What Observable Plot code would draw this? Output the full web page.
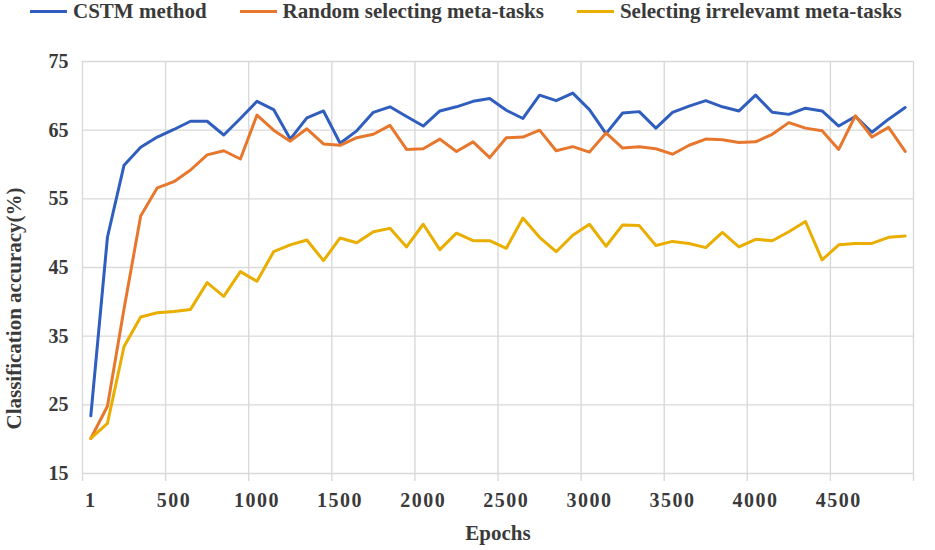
<!DOCTYPE html>
<html>
<head>
<meta charset="utf-8">
<script src="https://cdn.jsdelivr.net/npm/d3@7"></script>
<script src="https://cdn.jsdelivr.net/npm/@observablehq/plot@0.6"></script>
<style>
  body { margin: 0; background: #fff; }
  #legend { height: 22px; line-height: 22px; display: flex; align-items: center; padding-left: 30px;
            font: bold 21px "Liberation Serif", "Times New Roman", serif; color: #3a3a3a; white-space: nowrap; }
  .item { display: flex; align-items: center; margin-right: 33px; }
  .sw { width: 37px; height: 3px; margin-right: 6px; }
  #chart svg text { font-family: "Liberation Serif", "Times New Roman", serif !important; font-weight: bold; }
  g[aria-label="x-axis tick label"] text { letter-spacing: 1.5px; }
</style>
</head>
<body>
<div id="legend"></div>
<div id="chart"></div>
<script>
const epochs = [1, 100, 200, 300, 400, 500, 600, 700, 800, 900,
  1000, 1100, 1200, 1300, 1400, 1500, 1600, 1700, 1800, 1900,
  2000, 2100, 2200, 2300, 2400, 2500, 2600, 2700, 2800, 2900,
  3000, 3100, 3200, 3300, 3400, 3500, 3600, 3700, 3800, 3900,
  4000, 4100, 4200, 4300, 4400, 4500, 4600, 4700, 4800, 4900];
const tickLabels = ["1", "500", "1000", "1500", "2000", "2500", "3000", "3500", "4000", "4500"];
const yTicks = [15, 25, 35, 45, 55, 65, 75];
const seriesNames = ["CSTM method", "Random selecting meta-tasks", "Selecting irrelevamt meta-tasks"];
const seriesColors = ["#2F5EBE", "#E8772E", "#E9AE00"];

const cstm = [23.4, 49.4, 59.9, 62.5, 64.0, 65.1, 66.3, 66.3, 64.3, 66.7,
  69.2, 68.0, 63.7, 66.8, 67.8, 63.1, 64.9, 67.6, 68.4, 67.0,
  65.6, 67.8, 68.4, 69.2, 69.6, 67.9, 66.7, 70.1, 69.3, 70.4,
  68.0, 64.5, 67.5, 67.7, 65.3, 67.6, 68.5, 69.3, 68.4, 67.8,
  70.1, 67.6, 67.3, 68.2, 67.8, 65.6, 67.0, 64.7, 66.6, 68.3];
const randomSel = [20.1, 24.8, 39.0, 52.5, 56.6, 57.5, 59.2, 61.4, 62.0, 60.8,
  67.2, 65.0, 63.4, 65.2, 63.0, 62.8, 63.9, 64.4, 65.7, 62.2,
  62.3, 63.7, 61.9, 63.3, 61.0, 63.9, 64.0, 65.0, 62.0, 62.6,
  61.8, 64.6, 62.4, 62.6, 62.3, 61.5, 62.8, 63.7, 63.6, 63.2,
  63.3, 64.4, 66.1, 65.3, 64.9, 62.2, 67.1, 64.0, 65.4, 61.9];
const irrelevant = [20.1, 22.3, 33.5, 37.8, 38.4, 38.6, 38.9, 42.8, 40.8, 44.4,
  43.0, 47.3, 48.3, 49.0, 46.0, 49.3, 48.6, 50.2, 50.7, 48.0,
  51.3, 47.6, 50.0, 48.9, 48.9, 47.8, 52.2, 49.4, 47.3, 49.7,
  51.3, 48.1, 51.2, 51.1, 48.2, 48.8, 48.5, 47.9, 50.1, 48.0,
  49.1, 48.9, 50.2, 51.7, 46.1, 48.3, 48.5, 48.5, 49.4, 49.6];

const seriesValues = [cstm, randomSel, irrelevant];
const data = [];
seriesValues.forEach((vals, s) => vals.forEach((v, i) => data.push({series: seriesNames[s], i, epoch: epochs[i], v})));

const tickIdx = tickLabels.map(l => epochs.indexOf(+l));
const bounds = tickIdx.map(i => i - 0.5).concat([epochs.length - 0.5]);

// legend
const legend = document.getElementById("legend");
seriesNames.forEach((n, k) => {
  const it = document.createElement("div"); it.className = "item";
  const sw = document.createElement("span"); sw.className = "sw"; sw.style.background = seriesColors[k];
  const tx = document.createElement("span"); tx.textContent = n;
  it.appendChild(sw); it.appendChild(tx); legend.appendChild(it);
});

const font = {fontFamily: "Liberation Serif", fontWeight: "bold"};

const chart = Plot.plot({
  width: 935,
  height: 528,
  marginTop: 39,
  marginBottom: 77,
  marginLeft: 82,
  marginRight: 22,
  style: {fontFamily: "Liberation Serif", fontWeight: "bold", color: "#3a3a3a", background: "#fff"},
  x: {type: "linear", domain: [-0.5, epochs.length - 0.5], axis: null},
  y: {domain: [15, 75], axis: null},
  color: {domain: seriesNames, range: seriesColors},
  marks: [
    Plot.gridY(yTicks, {stroke: "#d9d9d9", strokeOpacity: 1, strokeWidth: 1.4}),
    Plot.gridX(bounds, {stroke: "#d9d9d9", strokeOpacity: 1, strokeWidth: 1.4}),
    Plot.ruleX(bounds, {y1: yTicks[0], y2: yTicks[0], insetBottom: -8, stroke: "#d9d9d9", strokeWidth: 1.4}),
    Plot.axisX(tickIdx, {label: null, tickSize: 0, tickPadding: 19, tickFormat: i => tickLabels[tickIdx.indexOf(i)], fontSize: 20, ...font}),
    Plot.axisY(yTicks, {label: null, tickSize: 0, tickPadding: 14, fontSize: 20, ...font}),
    Plot.line(data, {x: "i", y: "v", z: "series", stroke: "series", strokeWidth: 3, strokeLinejoin: "round", strokeLinecap: "round"}),
    Plot.text(["Classification accuracy(%)"], {frameAnchor: "left", textAnchor: "middle", dx: -68, dy: 41, rotate: -90, fontSize: 21, lineAnchor: "middle", ...font}),
    Plot.text(["Epochs"], {frameAnchor: "bottom", textAnchor: "middle", dy: 60, fontSize: 21, lineAnchor: "middle", ...font})
  ]
});
document.getElementById("chart").appendChild(chart);
</script>
</body>
</html>
